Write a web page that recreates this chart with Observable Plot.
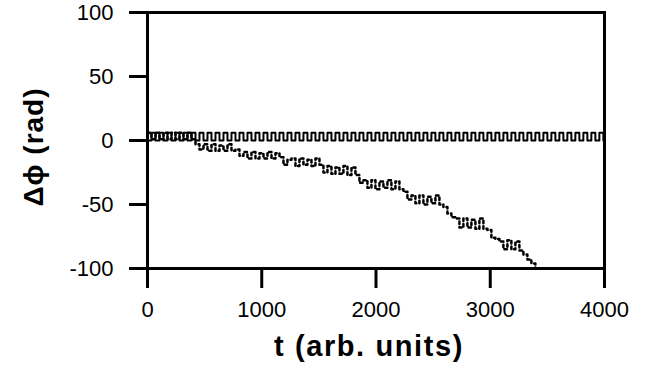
<!DOCTYPE html>
<html>
<head>
<meta charset="utf-8">
<script src="https://cdn.jsdelivr.net/npm/d3@7"></script>
<script src="https://cdn.jsdelivr.net/npm/@observablehq/plot@0.6"></script>
<style>
  html, body { margin: 0; padding: 0; background: #fff; }
  #chart { width: 647px; height: 366px; }
</style>
</head>
<body>
<div id="chart"></div>
<script>
// sample times (arb. units)
const tWave = [0,35,70,105,140,175,210,245,280,315,350,385,420,455,490,525,560,595,630,665,700,735,770,805,840,875,910,945,980,1015,1050,1085,1120,1155,1190,1225,1260,1295,1330,1365,1400,1435,1470,1505,1540,1575,1610,1645,1680,1715,1750,1785,1820,1855,1890,1925,1960,1995,2030,2065,2100,2135,2170,2205,2240,2275,2310,2345,2380,2415,2450,2485,2520,2555,2590,2625,2660,2695,2730,2765,2800,2835,2870,2905,2940,2975,3010,3045,3080,3115,3150,3185,3220,3255,3290,3325,3360,3395,3430,3465,3500,3535,3570,3605,3640,3675,3710,3745,3780,3815,3850,3885,3920,3955,3990,4000];
// reference trace (square wave, rad)
const phiRef = [0,6,0,6,0,6,0,6,0,6,0,6,0,6,0,6,0,6,0,6,0,6,0,6,0,6,0,6,0,6,0,6,0,6,0,6,0,6,0,6,0,6,0,6,0,6,0,6,0,6,0,6,0,6,0,6,0,6,0,6,0,6,0,6,0,6,0,6,0,6,0,6,0,6,0,6,0,6,0,6,0,6,0,6,0,6,0,6,0,6,0,6,0,6,0,6,0,6,0,6,0,6,0,6,0,6,0,6,0,6,0,6,0,6,0,6];
// slipping trace (dotted, rad), times tWave[0..97]
const phiSlip = [6,1,6,1,6,1,6,1,6,1,6,1,
  -3,-7,-3,-8,-3,-8,-4,-8,-3,-8,
  -7,-12,
  -9,-14,-9,-14,-10,-14,-9,-14,-10,
  -13,-19,-15,
  -14,-20,-14,-19,-15,-20,-14,
  -19,-25,
  -20,-26,-21,-26,-20,-27,-21,
  -27,-33,
  -31,-37,-31,-38,-32,-37,-31,-38,-32,-38,
  -40,-46,
  -43,-49,-43,-50,-44,-49,-43,-50,
  -52,-57,-60,
  -61,-68,-61,-68,-62,-69,-61,-69,
  -70,-76,-77,
  -79,-85,-78,-85,-79,-86,
  -89,-93,-96,-100];
const xTicks = [0,1000,2000,3000,4000];
const yTicks = [-100,-50,0,50,100];
const xLabel = "t (arb. units)";
const yLabel = "Δϕ (rad)";

const ref = tWave.map((t, i) => ({t, v: phiRef[i]}));
const slip = phiSlip.map((v, i) => ({t: tWave[i], v}));

const font = "'Liberation Sans', Arial, Helvetica, sans-serif";

const svg = Plot.plot({
  width: 647,
  height: 366,
  marginLeft: 147,
  marginRight: 43,
  marginTop: 12,
  marginBottom: 98,
  style: {fontFamily: font, background: "#fff", color: "#000"},
  x: {domain: [0, 4000], label: null},
  y: {domain: [-100, 100], label: null},
  marks: [
    Plot.line(ref, {x: "t", y: "v", curve: "step-after", stroke: "#000", strokeWidth: 2}),
    Plot.line(slip, {x: "t", y: "v", curve: "step-after", stroke: "#000", strokeWidth: 2.5, strokeDasharray: "2.5,3"}),
    Plot.frame({stroke: "#000", strokeWidth: 3}),
    Plot.axisX({ticks: xTicks, tickSize: 20, tickPadding: 13, fontSize: 22, strokeWidth: 3, tickFormat: d => String(d), label: null}),
    Plot.axisY({ticks: yTicks, tickSize: 18, tickPadding: 16, fontSize: 22, strokeWidth: 3, tickFormat: d => String(d), label: null})
  ]
});

const s = d3.select(svg);
s.append("text")
  .attr("x", 369).attr("y", 356)
  .attr("text-anchor", "middle")
  .attr("font-family", font)
  .attr("font-weight", "bold")
  .attr("font-size", 29)
  .attr("letter-spacing", "1.6px")
  .attr("fill", "#000")
  .text(xLabel);
s.append("text")
  .attr("transform", "translate(43,147) rotate(-90)")
  .attr("text-anchor", "middle")
  .attr("font-family", font)
  .attr("font-weight", "bold")
  .attr("font-size", 28)
  .attr("letter-spacing", "1px")
  .attr("fill", "#000")
  .text(yLabel);

document.getElementById("chart").appendChild(svg);
</script>
</body>
</html>
